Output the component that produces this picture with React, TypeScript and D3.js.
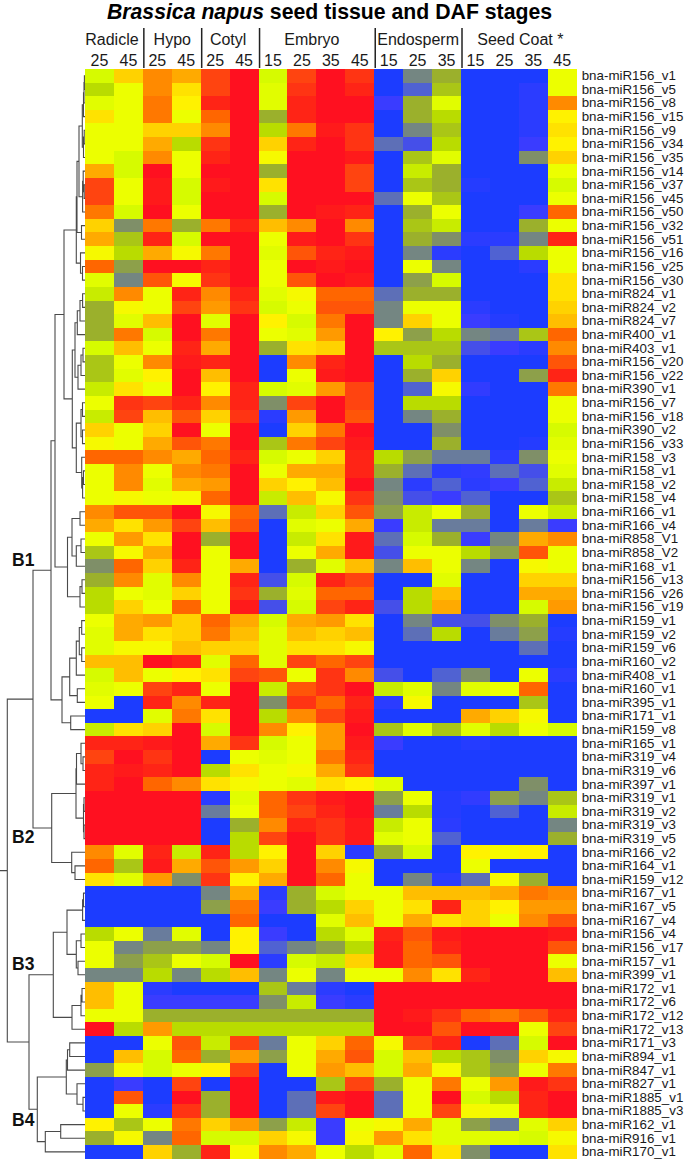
import React, { useEffect, useRef } from 'react'
import * as d3 from 'd3'

// columns, in heatmap order
const tissues = ['Radicle', 'Hypo', 'Cotyl', 'Embryo', 'Endosperm', 'Seed Coat *']
const tissueStages = [[25, 45], [25, 45], [25, 45], [15, 25, 35, 45], [15, 25, 35], [15, 25, 35, 45]]

const labelsB1 = [
  'bna-miR156_v1', 'bna-miR156_v5', 'bna-miR156_v8', 'bna-miR156_v15', 'bna-miR156_v9', 'bna-miR156_v34',
  'bna-miR156_v35', 'bna-miR156_v14', 'bna-miR156_v37', 'bna-miR156_v45', 'bna-miR156_v50', 'bna-miR156_v32',
  'bna-miR156_v51', 'bna-miR156_v16', 'bna-miR156_v25', 'bna-miR156_v30', 'bna-miR824_v1', 'bna-miR824_v2',
  'bna-miR824_v7', 'bna-miR400_v1', 'bna-miR403_v1', 'bna-miR156_v20', 'bna-miR156_v22', 'bna-miR390_v1',
  'bna-miR156_v7', 'bna-miR156_v18', 'bna-miR390_v2', 'bna-miR156_v33', 'bna-miR158_v3', 'bna-miR158_v1',
  'bna-miR158_v2', 'bna-miR158_v4', 'bna-miR166_v1', 'bna-miR166_v4', 'bna-miR858_V1', 'bna-miR858_V2',
  'bna-miR168_v1', 'bna-miR156_v13', 'bna-miR156_v26', 'bna-miR156_v19', 'bna-miR159_v1', 'bna-miR159_v2',
  'bna-miR159_v6', 'bna-miR160_v2', 'bna-miR408_v1', 'bna-miR160_v1', 'bna-miR395_v1', 'bna-miR171_v1',
  'bna-miR159_v8',
]
const labelsB2 = [
  'bna-miR165_v1', 'bna-miR319_v4', 'bna-miR319_v6', 'bna-miR397_v1', 'bna-miR319_v1', 'bna-miR319_v2',
  'bna-miR319_v3', 'bna-miR319_v5', 'bna-miR166_v2', 'bna-miR164_v1', 'bna-miR159_v12',
]
const labelsB3 = [
  'bna-miR167_v1', 'bna-miR167_v5', 'bna-miR167_v4', 'bna-miR156_v4', 'bna-miR156_v17', 'bna-miR157_v1',
  'bna-miR399_v1', 'bna-miR172_v1', 'bna-miR172_v6', 'bna-miR172_v12', 'bna-miR172_v13',
]
const labelsB4 = [
  'bna-miR171_v3', 'bna-miR894_v1', 'bna-miR847_v1', 'bna-miR827_v1', 'bna-miR1885_v1', 'bna-miR1885_v3',
  'bna-miR162_v1', 'bna-miR916_v1', 'bna-miR170_v1',
]

// relative level of each cell, 0 (blue) to 16 (red), read by eye
const heatB1 = [
  [7, 10, 12, 11, 14, 16, 7, 14, 16, 14.5, 0, 3.5, 5, 0, 0, 0, 8],
  [6, 8, 12, 9.5, 14, 16, 7.5, 14.5, 16, 15, 0, 2, 5.5, 0, 0, 0.5, 8],
  [7.5, 8, 12.5, 9, 15, 16, 7.5, 15, 16, 16, 1, 5, 7.5, 0, 0, 0.5, 12],
  [9.5, 8, 12.5, 8, 13, 16, 5, 15, 16, 16, 0, 5, 6, 0, 0, 0.5, 9],
  [8, 8, 10, 10, 12, 16, 6, 12.5, 15.5, 14.5, 0, 3.5, 5.5, 0, 0, 0.5, 9.5],
  [8, 8, 11, 6, 14.5, 16, 10, 15, 16, 14.5, 2.5, 1.5, 6, 0, 0, 1, 9],
  [8, 7, 12, 8, 15, 16, 8.5, 16, 16, 15.5, 0, 5.5, 7.5, 0, 0, 4, 10],
  [11, 7, 16, 8, 16, 16, 5, 16, 16, 14, 0, 6.5, 5, 0, 0, 0, 8],
  [14, 8, 15.5, 7, 15.5, 16, 9.5, 16, 16, 14, 0, 5.5, 5, 0.3, 0, 0, 7],
  [14, 8, 15.5, 7, 16, 16, 7, 16, 16, 16, 2.5, 8, 5.5, 0, 0, 0, 8],
  [12.5, 7, 16, 8, 16, 16, 5, 16, 15.5, 15, 0, 5, 8, 0, 0, 1, 13],
  [10, 4, 12.5, 5, 12.5, 15, 10.5, 12, 16, 12, 0, 5.5, 6.5, 0, 0, 5, 8],
  [11, 5.5, 15, 7, 16, 16, 8, 15.5, 16, 14.5, 0, 5, 4, 0.5, 0.5, 3.5, 15],
  [8.5, 6, 11, 8.5, 12.5, 16, 7.5, 13.5, 15, 15.5, 0, 3.5, 0.5, 0, 2, 6, 8],
  [13, 4.5, 16, 16, 15, 16, 8, 16, 15.5, 16, 0, 8, 3.5, 0, 0, 0.5, 8],
  [7.5, 3.5, 13.5, 8.5, 14.5, 16, 8, 13.5, 16, 15.5, 0, 4.5, 7, 0, 0, 0, 9.5],
  [6.5, 12, 8, 15, 12, 15, 7.5, 8.5, 13, 13, 2.5, 5, 5, 0, 0, 0, 9.5],
  [5, 8.5, 8, 14, 11.5, 14.5, 7, 8, 13.5, 13.5, 3.5, 8, 8, 0.5, 0, 0, 10],
  [5, 7.5, 10.5, 16, 7.5, 16, 9, 7, 12.5, 16, 3.5, 10, 8, 1, 0.3, 0, 10.5],
  [5, 12.5, 7, 16, 12.5, 16, 8, 7.5, 11.5, 16, 9, 4.5, 6, 3.5, 3, 5.5, 13],
  [7, 10.5, 8, 15, 11, 16, 5, 9.5, 10, 16, 5.5, 5.5, 5.5, 1.5, 1, 0.5, 12],
  [5.5, 8, 12, 15.5, 15, 16, 0, 12, 15, 16, 0, 6, 5, 0, 0, 0, 13.5],
  [5.5, 7.5, 9, 16, 10.5, 16, 0, 8, 15.5, 16, 0, 5, 10, 0, 0, 4.5, 15],
  [6.5, 9.5, 8, 16, 9, 15, 7, 7.5, 11.5, 14, 0, 2, 8.5, 0.7, 0, 0, 12.5],
  [8, 14.5, 14, 15, 12, 15, 4, 14, 16, 14, 0, 6, 6, 0, 0, 0, 8],
  [6.5, 14, 10.5, 13.5, 10, 14.5, 0.5, 11.5, 16, 13.5, 0, 3.5, 5, 0, 0, 0, 8],
  [10, 8, 10, 16, 8, 16, 0, 10, 12.5, 16, 0, 0, 4, 0, 0, 0, 7],
  [8.5, 8, 11, 13.5, 12.5, 16, 5.5, 12.5, 14, 15.5, 0, 0, 5, 0, 0, 0.3, 7.5],
  [13, 13, 12, 11, 13, 15, 7, 8, 10, 15, 6, 4.5, 3, 3, 0.5, 4, 8],
  [8, 12, 8, 12, 12.5, 16, 8, 11, 11, 15, 5, 2.5, 0.5, 0.7, 2.5, 1.5, 7.5],
  [8, 12, 7.5, 11, 11.5, 16, 10, 9, 10.5, 16, 3.5, 0.5, 2, 0.5, 1, 2, 6.5],
  [8, 8.5, 8, 8.5, 13, 16, 6.5, 10.5, 8.5, 14.5, 4, 1.5, 1, 2, 0, 0, 5.5],
  [12, 13.5, 13.5, 16, 8.5, 13, 2.5, 6.5, 10, 13.5, 4.5, 6.5, 8, 5, 0, 8, 6.5],
  [11, 9.5, 11.5, 14, 10.5, 13.5, 0, 7.5, 8, 11, 1, 6.5, 3, 3, 0, 3, 1],
  [8, 11.5, 9.5, 16, 5, 16, 0, 6.5, 9.5, 15.5, 2.5, 7, 5, 1, 3.5, 11, 12],
  [5.5, 8.5, 11, 16, 8, 16, 0, 8, 11, 15.5, 1.5, 8, 8, 6, 4.5, 13.5, 8],
  [4, 13, 10, 15, 8, 11, 0, 5, 7.5, 10.5, 3.5, 10.5, 8, 3.5, 0, 8.5, 8],
  [5, 12, 7.5, 12, 8, 15, 1.5, 7, 15, 14, 0, 0, 7.5, 0, 0, 10, 10],
  [6, 8, 7.5, 10, 8, 14.5, 5, 7.5, 13, 13, 0, 6, 10.5, 0, 0, 11, 11],
  [6, 10, 8, 13, 8, 15.5, 1.5, 7, 14, 15, 1.5, 6, 11, 0, 0, 7, 11.5],
  [8, 11, 11.5, 10, 13, 11, 7, 11, 11.5, 9.5, 0, 3.5, 1.5, 1.5, 4, 5, 0],
  [7.5, 11, 9.5, 10, 12.5, 10.5, 7.5, 10.5, 10, 10.5, 0, 2.5, 6, 0, 3, 4.5, 0.3],
  [7.5, 8.5, 8.5, 10.5, 10, 10, 7.5, 9.5, 9.5, 8.5, 0, 0, 0, 0, 0, 2.5, 0],
  [10.5, 10.5, 16, 15, 7.5, 13, 7.5, 14, 13, 14, 0, 0, 0, 0, 0, 0, 0],
  [7, 10.5, 8, 9, 9.5, 14, 13.5, 8, 14.5, 12, 1.5, 0, 2, 4, 0, 8, 0.5],
  [7.5, 8, 14, 15, 8, 16, 6.5, 13.5, 14.5, 16, 6.5, 7.5, 3.5, 7.5, 8, 13, 0],
  [8, 0, 15, 12, 15, 16, 4, 14.5, 13, 15, 0.5, 8.5, 0, 0, 0, 5.5, 0],
  [0, 0, 7.5, 12.5, 9.5, 16, 6, 12, 14, 15.5, 0, 0, 0, 11, 10, 8.5, 0],
  [6.5, 9.5, 10, 16, 7, 16, 12, 9, 11.5, 16, 5.5, 7.5, 5.5, 7.5, 6, 8, 7],
]
const heatB2 = [
  [15, 15, 15.5, 16, 11, 14.5, 7, 8, 11.5, 15.5, 1, 0, 0, 0.3, 0, 0, 0],
  [14, 16, 14.5, 16, 0, 8, 7.5, 8, 12.5, 15, 0, 0, 0, 0, 0, 0, 0],
  [15, 15.5, 15, 16, 6, 9.5, 8, 8.5, 11, 14.5, 0, 0, 0, 0, 0, 0, 0],
  [15, 16, 13, 12, 9.5, 8.5, 8, 7.5, 9.5, 9, 7.5, 0, 0, 0, 0, 4, 0],
  [16, 16, 16, 16, 0.5, 7.5, 13, 14.5, 15.5, 16, 4.5, 8, 0.3, 0.7, 4.5, 3.5, 5.5],
  [16, 16, 16, 16, 3, 8, 13, 14, 15, 16, 3, 6, 0.3, 0, 2, 0, 6.5],
  [16, 16, 16, 16, 0, 5, 12, 15, 14.5, 15.5, 6.5, 8, 0.5, 0, 0, 0, 3.5],
  [16, 16, 16, 16, 0, 6, 14, 16, 14.5, 15.5, 7.5, 8, 2, 0, 0, 0, 5],
  [12, 7.5, 15, 6.5, 15, 6, 9, 16, 10, 0.5, 5, 7, 0, 9, 8.5, 9, 0],
  [13, 5.5, 15.5, 11, 13.5, 11.5, 10, 16, 12, 8.5, 0, 0, 0, 8, 0, 0, 0],
  [9.5, 7.5, 11.5, 4, 14.5, 9, 11, 16, 13, 8, 0, 3.5, 0.5, 2.5, 8.5, 5, 0],
]
const heatB3 = [
  [0, 0, 0, 0, 3.5, 11, 0.5, 5, 7, 8, 8, 10.5, 10.5, 10.5, 11, 12.5, 12],
  [0, 0, 0, 0, 4.5, 12.5, 1, 5, 6, 10, 8, 9.5, 15, 10, 9, 11.5, 11.5],
  [0, 0, 0, 0, 0, 13, 0, 0, 7.5, 10.5, 8, 11, 9.5, 10, 8, 12, 13.5],
  [6, 8, 3, 7.5, 0, 9, 1, 0, 6, 7.5, 15, 13.5, 15.5, 16, 16, 16, 15.5],
  [8, 3.5, 4.5, 4.5, 3.5, 9, 2, 3.5, 4.5, 6, 15.5, 13, 15, 16, 16, 16, 13.5],
  [8, 4.5, 5.5, 8, 7, 16, 0.5, 7, 6.5, 10, 15.5, 13, 13.5, 16, 16, 16, 8],
  [3.5, 3.5, 6, 3.5, 6, 10.5, 3.5, 8, 3.5, 8, 8, 12, 9.5, 15, 16, 16, 10.5],
  [10.5, 8, 0.5, 0, 0, 0, 5.5, 3, 0.5, 0, 16, 16, 16, 16, 16, 16, 16],
  [10.5, 8, 1, 1, 1, 1, 4, 6.5, 1, 0.5, 16, 16, 16, 16, 16, 16, 16],
  [8, 8, 5, 5, 5, 5, 5, 5, 5, 5, 16, 15.5, 14.5, 13, 12.5, 13.5, 15],
  [16, 6, 11.5, 6, 6, 6, 6, 6, 6, 6, 16, 16, 13.5, 16, 16, 8, 14],
]
const heatB4 = [
  [0, 0, 8, 13.5, 6.5, 14, 3, 8, 10, 13, 8.5, 14, 15, 0, 2.5, 7, 16],
  [0, 10.5, 7, 13, 5, 11.5, 4.5, 8, 11, 13.5, 7, 10.5, 6, 5.5, 4, 10, 8.5],
  [4.5, 8.5, 7, 8, 9, 14, 0, 8, 11.5, 10.5, 7, 11, 8.5, 5.5, 4.5, 8, 12.5],
  [0, 1, 0, 14, 0, 16, 0, 0, 5.5, 14, 5, 8, 12.5, 8, 11.5, 15.5, 14.5],
  [0, 13.5, 0, 16, 5, 16, 0, 2.5, 15.5, 16, 2.5, 8, 16, 7, 6, 15, 16],
  [0, 8, 0.5, 14.5, 5, 16, 0, 2.5, 14, 16, 2.5, 8, 14, 8.5, 8, 15, 16],
  [9, 5.5, 8, 12.5, 10, 11.5, 4.5, 6.5, 1, 8, 8.5, 11, 7.5, 4.5, 3, 7.5, 10],
  [5, 8.5, 3.5, 13, 7, 7, 10, 8.5, 1, 8.5, 11.5, 9.5, 7.5, 7.5, 7.5, 7, 8.5],
  [0, 0, 10, 5, 15, 8.5, 12, 11, 8, 6, 7.5, 13, 9.5, 4, 0, 0, 9.5],
]

const colorLevels = [0, 1, 2, 3, 4, 5, 6, 7, 8, 9, 10, 11, 12, 13, 14, 15, 16]
const colorStops = [
  '#1c3cff', '#3a3cff', '#5062d2', '#697c9c', '#7f8f68', '#9bb02c', '#b9dc00', '#d6fb00', '#ecff00',
  '#fff200', '#ffd200', '#ffaa00', '#ff8a00', '#ff6600', '#ff4410', '#ff2416', '#ff1020',
]

// dendrogram: [merge distance, child, child], L is one row, children in row order
type Tree = 0 | [number, Tree, Tree]
const L: Tree = 0
const rows1to16: Tree = [8.7,
  [8,
    [6,
      [2.7, [1.5, [1, [0.6, L, L], L], L], [1.5, [0.8, L, L], L]],
      [2.4, [1.8, L, [0.8, L, L]], L],
    ],
    [3.5, L, L],
  ],
  [4.5, L, [2.5, L, L]],
]
const rows17to32: Tree = [12.7,
  [10,
    [7.7, [5, [2.4, L, L], L], L],
    [7, [4, [2, L, L], L], L],
  ],
  [8.7,
    [4, [2.5, L, L], [2.5, L, L]],
    [3.3, L, [2.4, [1.5, L, L], L]],
  ],
]
const rows33to40: Tree = [17.5,
  [13, [5, L, L], [8.7, [4, L, L], L]],
  [5, [3, L, L], L],
]
const rows41to49: Tree = [23,
  [15.3,
    [8.7, [5.7, [3.3, L, L], [3.3, L, L]], L],
    [7.7, L, L],
  ],
  [14.3, L, L],
]
const treeB1: Tree = [34, [30, [21, rows1to16, rows17to32], rows33to40], rows41to49]
const treeB2: Tree = [33.3,
  [9,
    [8.5, [4, L, [2, L, L]], L],
    [1.5, [1, L, L], [1, L, L]],
  ],
  [13.3, L, [10, L, L]],
]
const treeB3: Tree = [31.7,
  [18,
    [2.4, [1.5, L, L], L],
    [8.7, [4, L, L], [7, L, L]],
  ],
  [13, [4, [3, L, L], L], L],
]
const treeB4: Tree = [47.7,
  [18.7,
    [17.5, [15.3, L, L], L],
    [8, L, [2, L, L]],
  ],
  [39.7, [24.3, L, L], L],
]
const treeAll: Tree = [77.7,
  [52, treeB1, treeB2],
  [56, treeB3, treeB4],
]

const clusterNames = ['B1', 'B2', 'B3', 'B4']

const width = 685
const height = 1162

export default function App() {
  const ref = useRef<SVGSVGElement>(null)

  useEffect(() => {
    const svg = d3.select(ref.current)
    svg.selectAll('*').remove()

    const font = '"Liberation Sans", Arial, sans-serif'
    const rowLabels = [...labelsB1, ...labelsB2, ...labelsB3, ...labelsB4]
    const heat = [...heatB1, ...heatB2, ...heatB3, ...heatB4]

    const left = 85
    const right = 576.7
    const top = 69
    const bottom = 1158.7

    const x = d3.scaleBand<number>().domain(d3.range(17)).range([left, right])
    const y = d3.scaleBand<number>().domain(d3.range(rowLabels.length)).range([top, bottom])
    const color = d3.scaleLinear<string>().domain(colorLevels).range(colorStops).interpolate(d3.interpolateRgb)
    const dist = d3.scaleLinear().domain([0, left]).range([left, 0])

    // title
    const title = svg.append('text')
      .attr('x', 329.5)
      .attr('y', 19)
      .attr('text-anchor', 'middle')
      .attr('font-family', font)
      .attr('font-weight', 'bold')
      .attr('font-size', 21.25)
    title.append('tspan').attr('font-style', 'italic').text('Brassica napus')
    title.append('tspan').text(' seed tissue and DAF stages')

    // heatmap
    svg.append('g')
      .attr('shape-rendering', 'crispEdges')
      .selectAll('g')
      .data(heat)
      .join('g')
      .each(function (row, r) {
        d3.select(this)
          .selectAll('rect')
          .data(row)
          .join('rect')
          .attr('x', (_, c) => x(c)!)
          .attr('y', y(r)!)
          .attr('width', x.bandwidth() + 0.5)
          .attr('height', y.bandwidth() + 0.5)
          .attr('fill', d => color(d))
      })

    // row labels
    svg.append('g')
      .selectAll('text')
      .data(rowLabels)
      .join('text')
      .attr('x', right + 5)
      .attr('y', (_, r) => y(r)! + y.bandwidth() / 2 + 4.4)
      .attr('font-family', font)
      .attr('font-size', 13.35)
      .attr('fill', '#1a1a1a')
      .text(d => d)

    // column headers
    const labelNudge = [-2, 0.5, -1.5, -4.5, 0.5, 1.5]
    let start = 0
    tissues.forEach((tissue, t) => {
      const stages = tissueStages[t]
      const end = start + stages.length
      svg.append('text')
        .attr('x', (x(start)! + x(end - 1)! + x.bandwidth()) / 2 + labelNudge[t])
        .attr('y', 45)
        .attr('text-anchor', 'middle')
        .attr('font-family', font)
        .attr('font-size', 16)
        .attr('fill', '#1a1a1a')
        .text(tissue)
      stages.forEach((s, i) => {
        svg.append('text')
          .attr('x', x(start + i)! + x.bandwidth() / 2)
          .attr('y', 66)
          .attr('text-anchor', 'middle')
          .attr('font-family', font)
          .attr('font-size', 16)
          .attr('fill', '#1a1a1a')
          .text(s)
      })
      if (end < 17) {
        svg.append('line')
          .attr('x1', x(end)! + 1)
          .attr('x2', x(end)! + 1)
          .attr('y1', 28)
          .attr('y2', 68)
          .attr('stroke', '#222')
          .attr('stroke-width', 1.5)
      }
      start = end
    })

    // dendrogram, leaves take the rows in order and a merge sits midway between its children
    const root = d3.hierarchy<Tree>(treeAll, d => (Array.isArray(d) ? [d[1], d[2]] : null))
    let leaf = 0
    const rowY = new Map<d3.HierarchyNode<Tree>, number>()
    root.eachAfter(n => {
      if (n.children) {
        rowY.set(n, (rowY.get(n.children[0])! + rowY.get(n.children[1])!) / 2)
      } else {
        rowY.set(n, y(leaf)! + y.bandwidth() / 2)
        leaf += 1
      }
    })
    const nodeX = (n: d3.HierarchyNode<Tree>) => dist(Array.isArray(n.data) ? n.data[0] : 0)
    const links = d3.path()
    root.each(n => {
      if (!n.children) return
      const [a, b] = n.children
      links.moveTo(nodeX(a), rowY.get(a)!)
      links.lineTo(nodeX(n), rowY.get(a)!)
      links.lineTo(nodeX(n), rowY.get(b)!)
      links.lineTo(nodeX(b), rowY.get(b)!)
    })
    links.moveTo(0, rowY.get(root)!)
    links.lineTo(nodeX(root), rowY.get(root)!)
    svg.append('path')
      .attr('d', links.toString())
      .attr('fill', 'none')
      .attr('stroke', '#4a4a4a')
      .attr('stroke-width', 1.1)

    // cluster names
    const clusterNameY = [566, 843, 970, 1126]
    clusterNames.forEach((name, i) => {
      svg.append('text')
        .attr('x', 12)
        .attr('y', clusterNameY[i])
        .attr('font-family', font)
        .attr('font-weight', 'bold')
        .attr('font-size', 17.5)
        .attr('fill', '#111')
        .text(name)
    })
  }, [])

  return (
    <svg
      ref={ref}
      width={width}
      height={height}
      style={{ position: 'absolute', left: 0, top: 0, display: 'block', background: '#fff' }}
    />
  )
}
